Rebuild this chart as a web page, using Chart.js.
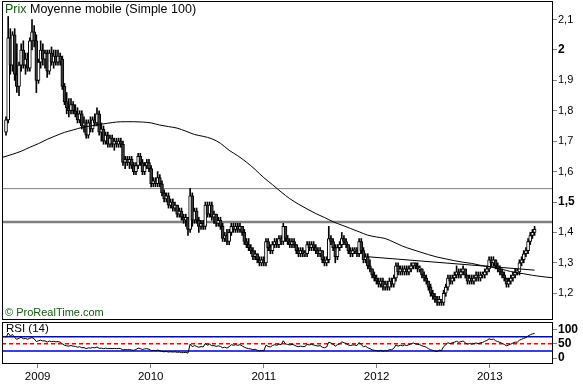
<!DOCTYPE html>
<html><head><meta charset="utf-8">
<script src="https://cdn.jsdelivr.net/npm/chart.js@4.4.1/dist/chart.umd.min.js"></script>
<style>
html,body{margin:0;padding:0;background:#fff;}
#wrap{position:relative;width:583px;height:384px;overflow:hidden;}
#main{position:absolute;left:0;top:0;}
#rsi{position:absolute;left:0;top:321px;}
</style></head><body>
<div id="wrap">
<canvas id="main" width="583" height="321"></canvas>
<canvas id="rsi" width="583" height="63"></canvas>
</div>
<script>
// ---- data (weekly candles, week index 0 = late Sept 2008) ----
const open = [
1.73,1.77,2.04,1.95,2.05,1.92,1.88,1.95,2.00,1.95,
1.97,1.94,2.03,2.06,2.03,1.90,1.96,2.00,1.97,1.99,
1.93,1.99,1.96,1.98,1.96,1.98,1.97,1.88,1.83,1.81,
1.80,1.82,1.80,1.79,1.77,1.79,1.75,1.76,1.72,1.76,
1.74,1.77,1.76,1.79,1.73,1.74,1.70,1.72,1.69,1.71,
1.69,1.70,1.69,1.70,1.69,1.63,1.64,1.63,1.64,1.62,
1.60,1.62,1.65,1.63,1.60,1.62,1.63,1.61,1.56,1.57,
1.56,1.58,1.56,1.53,1.51,1.52,1.49,1.50,1.48,1.49,
1.46,1.47,1.45,1.44,1.45,1.41,1.52,1.44,1.47,1.44,
1.42,1.43,1.42,1.49,1.46,1.49,1.45,1.46,1.43,1.44,
1.42,1.38,1.39,1.37,1.40,1.42,1.41,1.42,1.41,1.42,
1.40,1.37,1.36,1.35,1.34,1.32,1.33,1.31,1.30,1.31,
1.30,1.37,1.35,1.34,1.36,1.37,1.36,1.38,1.37,1.42,
1.38,1.37,1.36,1.37,1.36,1.34,1.33,1.34,1.33,1.33,
1.36,1.35,1.36,1.35,1.34,1.33,1.34,1.31,1.30,1.31,
1.38,1.37,1.35,1.32,1.35,1.36,1.38,1.37,1.36,1.34,
1.33,1.34,1.34,1.33,1.37,1.34,1.31,1.32,1.29,1.28,
1.26,1.25,1.24,1.23,1.24,1.22,1.23,1.22,1.24,1.23,
1.25,1.29,1.27,1.28,1.27,1.28,1.27,1.28,1.29,1.30,
1.29,1.28,1.28,1.26,1.25,1.24,1.22,1.20,1.19,1.18,
1.17,1.18,1.17,1.20,1.22,1.25,1.24,1.25,1.26,1.27,
1.26,1.27,1.28,1.26,1.24,1.25,1.24,1.25,1.26,1.25,
1.26,1.26,1.27,1.28,1.31,1.30,1.31,1.29,1.28,1.27,
1.26,1.25,1.23,1.24,1.25,1.26,1.27,1.27,1.30,1.31,
1.33,1.34,1.37,1.39,1.40];
const close = [
1.77,2.04,1.95,2.05,1.92,1.88,1.95,2.00,1.95,1.97,
1.94,2.03,2.06,2.03,1.90,1.96,2.00,1.97,1.99,1.93,
1.99,1.96,1.98,1.96,1.98,1.96,1.88,1.83,1.81,1.80,
1.82,1.80,1.79,1.77,1.79,1.75,1.76,1.72,1.76,1.74,
1.77,1.76,1.79,1.73,1.74,1.70,1.72,1.69,1.71,1.69,
1.70,1.69,1.70,1.69,1.63,1.64,1.63,1.64,1.62,1.60,
1.62,1.65,1.63,1.60,1.62,1.63,1.61,1.56,1.57,1.56,
1.58,1.56,1.53,1.51,1.52,1.49,1.50,1.48,1.49,1.46,
1.47,1.45,1.44,1.45,1.41,1.52,1.44,1.47,1.44,1.42,
1.43,1.42,1.49,1.46,1.49,1.45,1.46,1.43,1.44,1.42,
1.38,1.39,1.37,1.40,1.42,1.41,1.42,1.41,1.42,1.40,
1.37,1.36,1.35,1.34,1.32,1.33,1.31,1.30,1.31,1.30,
1.37,1.35,1.34,1.36,1.37,1.36,1.38,1.37,1.42,1.38,
1.37,1.36,1.37,1.36,1.34,1.33,1.34,1.33,1.33,1.36,
1.35,1.36,1.35,1.34,1.33,1.34,1.31,1.30,1.31,1.38,
1.37,1.35,1.32,1.35,1.36,1.38,1.37,1.36,1.34,1.33,
1.34,1.34,1.33,1.37,1.34,1.31,1.32,1.29,1.28,1.26,
1.25,1.24,1.23,1.24,1.22,1.23,1.22,1.24,1.23,1.25,
1.29,1.27,1.28,1.27,1.28,1.27,1.28,1.29,1.30,1.29,
1.28,1.28,1.26,1.25,1.24,1.22,1.20,1.19,1.18,1.17,
1.18,1.17,1.20,1.22,1.25,1.24,1.25,1.26,1.27,1.26,
1.27,1.28,1.26,1.24,1.25,1.24,1.25,1.26,1.25,1.26,
1.26,1.27,1.28,1.31,1.30,1.31,1.29,1.28,1.27,1.26,
1.25,1.23,1.24,1.25,1.26,1.27,1.27,1.30,1.31,1.33,
1.34,1.37,1.39,1.40,1.41];
const high = [
1.78,2.11,2.07,2.06,2.07,2.02,1.96,2.02,2.03,1.99,
1.99,2.04,2.10,2.08,2.05,1.97,2.03,2.02,2.00,2.00,
2.00,2.01,2.00,2.00,2.00,1.99,1.98,1.89,1.86,1.84,
1.84,1.83,1.82,1.81,1.80,1.80,1.78,1.77,1.77,1.78,
1.78,1.79,1.81,1.80,1.76,1.75,1.73,1.73,1.72,1.72,
1.71,1.71,1.71,1.71,1.70,1.65,1.65,1.65,1.65,1.63,
1.63,1.66,1.66,1.64,1.63,1.64,1.64,1.62,1.58,1.58,
1.60,1.59,1.57,1.54,1.53,1.53,1.51,1.51,1.50,1.49,
1.48,1.48,1.46,1.46,1.45,1.545,1.53,1.48,1.48,1.45,
1.44,1.44,1.50,1.50,1.50,1.50,1.47,1.46,1.45,1.45,
1.43,1.40,1.41,1.41,1.43,1.43,1.43,1.43,1.43,1.42,
1.41,1.38,1.38,1.36,1.35,1.34,1.33,1.32,1.32,1.32,
1.38,1.38,1.36,1.37,1.38,1.38,1.39,1.39,1.43,1.42,
1.39,1.38,1.38,1.38,1.36,1.35,1.35,1.35,1.34,1.37,
1.37,1.37,1.37,1.36,1.35,1.35,1.34,1.32,1.32,1.42,
1.39,1.38,1.36,1.36,1.37,1.40,1.39,1.38,1.36,1.35,
1.35,1.35,1.35,1.38,1.38,1.35,1.33,1.33,1.31,1.28,
1.27,1.26,1.25,1.25,1.25,1.24,1.24,1.25,1.25,1.26,
1.30,1.30,1.29,1.29,1.29,1.29,1.29,1.30,1.30,1.30,
1.30,1.29,1.28,1.27,1.26,1.24,1.23,1.21,1.20,1.19,
1.19,1.18,1.21,1.23,1.26,1.26,1.26,1.27,1.29,1.28,
1.28,1.29,1.28,1.26,1.26,1.26,1.26,1.27,1.27,1.27,
1.27,1.28,1.29,1.32,1.32,1.32,1.31,1.30,1.29,1.28,
1.27,1.25,1.25,1.26,1.27,1.28,1.28,1.31,1.32,1.34,
1.35,1.38,1.40,1.41,1.42];
const low = [
1.72,1.76,1.92,1.93,1.90,1.86,1.85,1.93,1.94,1.92,
1.93,1.93,2.00,2.01,1.86,1.89,1.94,1.95,1.94,1.91,
1.92,1.95,1.94,1.95,1.95,1.95,1.87,1.82,1.79,1.78,
1.79,1.79,1.78,1.76,1.76,1.74,1.73,1.71,1.71,1.73,
1.73,1.75,1.75,1.72,1.70,1.69,1.69,1.68,1.68,1.68,
1.67,1.68,1.68,1.68,1.62,1.61,1.62,1.61,1.61,1.59,
1.59,1.61,1.62,1.59,1.59,1.61,1.60,1.55,1.55,1.55,
1.55,1.55,1.52,1.50,1.50,1.48,1.48,1.47,1.47,1.45,
1.45,1.44,1.43,1.42,1.39,1.40,1.42,1.43,1.43,1.40,
1.41,1.41,1.41,1.45,1.45,1.44,1.43,1.42,1.42,1.41,
1.37,1.37,1.36,1.36,1.39,1.40,1.40,1.40,1.40,1.39,
1.36,1.35,1.34,1.33,1.31,1.31,1.30,1.29,1.29,1.29,
1.29,1.34,1.33,1.33,1.35,1.35,1.35,1.36,1.36,1.37,
1.36,1.35,1.35,1.35,1.33,1.32,1.32,1.32,1.32,1.32,
1.34,1.34,1.34,1.33,1.32,1.32,1.30,1.29,1.29,1.30,
1.36,1.34,1.30,1.31,1.34,1.35,1.36,1.35,1.33,1.32,
1.32,1.33,1.32,1.32,1.33,1.30,1.30,1.28,1.27,1.25,
1.24,1.23,1.22,1.22,1.21,1.21,1.21,1.21,1.22,1.22,
1.24,1.26,1.26,1.26,1.26,1.26,1.26,1.27,1.28,1.28,
1.27,1.27,1.25,1.24,1.23,1.21,1.19,1.18,1.17,1.16,
1.16,1.16,1.16,1.19,1.21,1.23,1.23,1.24,1.25,1.25,
1.25,1.26,1.25,1.23,1.23,1.23,1.23,1.24,1.24,1.24,
1.25,1.25,1.26,1.27,1.29,1.29,1.28,1.27,1.26,1.25,
1.24,1.22,1.22,1.23,1.24,1.25,1.26,1.26,1.29,1.30,
1.32,1.33,1.36,1.38,1.39];
// RSI (14), one value per week
const rsi = [
72,88,78,83,72,66,70,73,68,69,
66,70,72,68,58,61,63,60,61,56,
60,58,59,57,58,56,50,45,43,42,
44,42,41,38,40,36,37,33,36,35,
37,36,39,34,35,33,35,33,34,33,
34,33,34,33,28,30,29,30,28,27,
30,35,33,30,32,33,31,26,27,26,
28,26,23,22,23,21,22,21,22,20,
21,19,19,20,17,49,40,44,41,38,
40,39,51,45,49,43,44,41,43,41,
36,38,35,40,47,45,47,45,47,43,
38,35,33,32,29,31,27,25,27,25,
45,41,39,44,47,45,49,47,61,50,
48,46,48,46,42,40,42,40,41,48,
46,48,46,44,42,44,38,36,39,56,
53,48,42,47,50,57,54,51,46,44,
46,46,44,55,47,40,42,36,33,29,
27,26,24,27,24,26,25,30,29,34,
46,42,45,43,46,44,47,50,53,50,
48,47,43,41,38,33,29,27,25,23,
28,26,40,47,54,51,54,56,59,55,
58,60,54,49,51,49,51,53,51,54,
55,59,62,68,65,67,61,58,55,52,
48,43,46,49,53,56,56,63,66,70,
72,78,82,85,87];
// Simple moving average (100)
const maWeeks = [-2,3,7,11,15,19,23,27,31,35,39,43,47,51,55,59,63,67,71,75,79,83,87,91,95,99,103,107,111,115,119,123,127,131,135,139,143,147,151,155,159,163,167,171,175,179,183,187,191,195,199,203,207,211,215,219,223,227,231,235,239,243,247,252];
const maValues = [1.646,1.657,1.667,1.680,1.692,1.706,1.718,1.729,1.737,1.745,1.750,1.755,1.759,1.763,1.764,1.764,1.763,1.760,1.753,1.748,1.743,1.733,1.722,1.716,1.708,1.693,1.670,1.652,1.631,1.607,1.580,1.557,1.533,1.511,1.493,1.477,1.462,1.449,1.435,1.424,1.413,1.402,1.391,1.385,1.380,1.368,1.355,1.345,1.336,1.327,1.319,1.313,1.307,1.302,1.298,1.292,1.287,1.282,1.275,1.268,1.264,1.259,1.255,1.251];
// support / resistance levels and trend line
const levelValues = [1.544, 1.434];
const trendWeeks = [167, 244];
const trendValues = [1.320, 1.276];
// axes
const priceTicks = [1.2,1.3,1.4,1.5,1.6,1.7,1.8,1.9,2.0,2.1];
const priceTickLabels = ['1,2','1,3','1,4','1,5','1,6','1,7','1,8','1,9','2','2,1'];
const rsiTicks = [0,50,100];
const rsiTickLabels = ['0','50','100'];
const rsiBands = [75,25];
const rsiMid = 50;
const yearLabels = ['2009','2010','2011','2012','2013'];
const yearWeeks = [14.6,66.8,119.0,171.1,223.3];
const xMin = -1.85, xMax = 252.5;
const priceMin = 1.112, priceMax = 2.161;
const rsiMin = -21.2, rsiMax = 127.2;

// ---- rendering ----
Chart.defaults.font.family = '"Liberation Sans", Arial, sans-serif';
Chart.defaults.font.size = 11;
Chart.defaults.color = '#000';
const FONT = '"Liberation Sans", Arial, sans-serif';

const frame = {
  id: 'frame',
  afterDraw(chart, args, opts) {
    const {ctx, chartArea: a} = chart;
    ctx.save();
    ctx.strokeStyle = '#000'; ctx.lineWidth = 1;
    ctx.strokeRect(a.left + 0.5, a.top + 0.5, a.right - a.left - 1, a.bottom - a.top - 1);
    ctx.textBaseline = 'middle'; ctx.textAlign = 'left';
    (opts.texts || []).forEach(t => {
      ctx.font = t.font;
      let x = t.x;
      t.parts.forEach(p => { ctx.fillStyle = p[1]; ctx.fillText(p[0], x, t.y); x += ctx.measureText(p[0]).width; });
    });
    ctx.restore();
  }
};
const fitRight = s => { s.width = 30; s.paddingTop = 0; s.paddingBottom = 0; };

const idx = close.map((c, i) => i);
const bodies = idx.map(i => ({x: i, y: [open[i], close[i]]}));
const wicks = idx.map(i => ({x: i, y: [low[i], high[i]]}));
const bodyColors = idx.map(i => close[i] >= open[i] ? '#ffffff' : '#3c3c3c');

const levelDatasets = levelValues.map((v, k) => ({
  type: 'line', data: [{x: xMin, y: v}, {x: xMax, y: v}],
  borderColor: '#808080', borderWidth: k === 0 ? 1 : 2.5, pointRadius: 0, order: 5
}));

new Chart(document.getElementById('main'), {
  type: 'bar',
  data: {
    datasets: [
      ...levelDatasets,
      {type: 'bar', data: wicks, backgroundColor: '#000', borderWidth: 0, barThickness: 1, grouped: false, order: 3},
      {type: 'bar', data: bodies, backgroundColor: bodyColors, borderColor: '#000', borderWidth: 1,
       borderSkipped: false, barThickness: 3, minBarLength: 1, grouped: false, order: 2},
      {type: 'line', data: maWeeks.map((w, i) => ({x: w, y: maValues[i]})), borderColor: '#000', borderWidth: 1,
       pointRadius: 0, cubicInterpolationMode: 'monotone', order: 1},
      {type: 'line', data: trendWeeks.map((w, i) => ({x: w, y: trendValues[i]})), borderColor: '#000', borderWidth: 1,
       pointRadius: 0, order: 0}
    ]
  },
  options: {
    responsive: false, animation: false, devicePixelRatio: 1, events: [],
    layout: {padding: {left: 2, top: 1, right: 0, bottom: 1}},
    plugins: {
      legend: {display: false}, tooltip: {enabled: false},
      frame: {texts: [
        {x: 5, y: 10, font: '12.5px ' + FONT, parts: [['Prix', '#0d5e0d'], [' Moyenne mobile (Simple 100)', '#000']]},
        {x: 5, y: 313, font: '11px ' + FONT, parts: [['\u00A9 ProRealTime.com', '#0d5e0d']]}
      ]}
    },
    scales: {
      x: {type: 'linear', min: xMin, max: xMax, display: false, offset: false},
      y: {
        position: 'right', min: priceMin, max: priceMax,
        afterFit: fitRight,
        afterBuildTicks: s => { s.ticks = priceTicks.map(v => ({value: v})); },
        border: {display: false},
        grid: {drawOnChartArea: false, drawTicks: true, tickLength: 4, color: '#808080'},
        ticks: {
          padding: 1, color: '#000',
          callback: (v, i) => priceTickLabels[i],
          font: ctx => (ctx.tick && Math.abs(ctx.tick.value * 2 - Math.round(ctx.tick.value * 2)) < 1e-6)
            ? {size: 12, weight: 'bold'} : {size: 11}
        }
      }
    }
  },
  plugins: [frame]
});

new Chart(document.getElementById('rsi'), {
  type: 'line',
  data: {
    datasets: [
      {data: idx.map(i => ({x: i, y: rsi[i]})), borderColor: '#000', borderWidth: 1, pointRadius: 0, order: 0},
      ...rsiBands.map(v => ({data: [{x: xMin, y: v}, {x: xMax, y: v}], borderColor: '#0000c0', borderWidth: 1.5, pointRadius: 0, order: 2})),
      {data: [{x: xMin, y: rsiMid}, {x: xMax, y: rsiMid}], borderColor: '#ff0000', borderWidth: 1.5, borderDash: [4, 3], pointRadius: 0, order: 1}
    ]
  },
  options: {
    responsive: false, animation: false, devicePixelRatio: 1, events: [],
    layout: {padding: {left: 2, top: 1, right: 0, bottom: 0}},
    plugins: {
      legend: {display: false}, tooltip: {enabled: false},
      frame: {texts: [
        {x: 6, y: 8, font: '11.5px ' + FONT, parts: [['RSI (14)', '#000']]}
      ]}
    },
    scales: {
      x: {
        type: 'linear', min: xMin, max: xMax, offset: false,
        afterFit: s => { s.height = 20; s.paddingLeft = 0; s.paddingRight = 0; },
        afterBuildTicks: s => { s.ticks = yearWeeks.map(v => ({value: v})); },
        border: {display: false},
        grid: {drawOnChartArea: false, drawTicks: true, tickLength: 4, color: '#808080'},
        ticks: {padding: 2, autoSkip: false, maxRotation: 0, color: '#000', font: {size: 11.5},
          callback: (v, i) => yearLabels[i]}
      },
      y: {
        position: 'right', min: rsiMin, max: rsiMax,
        afterFit: fitRight,
        afterBuildTicks: s => { s.ticks = rsiTicks.map(v => ({value: v})); },
        border: {display: false},
        grid: {drawOnChartArea: false, drawTicks: true, tickLength: 4, color: '#808080'},
        ticks: {padding: 1, color: '#000', font: {size: 12, weight: 'bold'}, callback: (v, i) => rsiTickLabels[i]}
      }
    }
  },
  plugins: [frame]
});
</script>
</body></html>
